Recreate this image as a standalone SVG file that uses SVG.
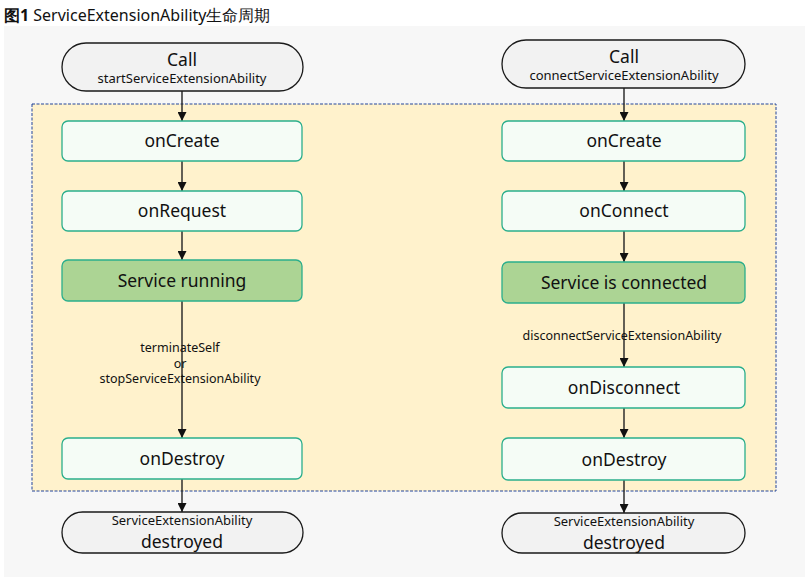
<svg xmlns="http://www.w3.org/2000/svg" width="809" height="586" viewBox="0 0 809 586">
<style>
text{font-family:"Noto Sans","Open Sans","Liberation Sans",sans-serif;fill:#111;text-anchor:middle}
.title{text-anchor:start;font-size:16px}
.term{fill:#f2f2f2;stroke:#1a1a1a;stroke-width:1.3}
.box{fill:#f5fcf6;stroke:#2aae8c;stroke-width:1.3}
.act{fill:#acd494;stroke:#2aae8c;stroke-width:1.3}
.big{font-size:17.5px}
.sm{font-size:13px}
.lbl{font-size:12.5px}
.edge{stroke:#222;stroke-width:1.4;fill:none;marker-end:url(#ah)}
</style>
<defs>
<marker id="ah" viewBox="0 0 10 10" refX="10" refY="5" markerWidth="9" markerHeight="9" markerUnits="userSpaceOnUse" orient="auto">
<path d="M0,0 L10,5 L0,10 z" fill="#111"/>
</marker>
</defs>
<rect width="809" height="586" fill="#fff"/>
<text class="title" x="4" y="21"><tspan font-weight="bold">图1</tspan> ServiceExtensionAbility生命周期</text>
<rect x="4" y="26" width="801" height="551" fill="#f7f7f7"/>
<rect x="32" y="104" width="744" height="387" fill="#fff2cc" stroke="#23449a" stroke-width="1" stroke-dasharray="3,1.5"/>
<g id="connectors">
<path class="edge" d="M182,91 V121"/>
<path class="edge" d="M182,161 V191"/>
<path class="edge" d="M182,231 V260"/>
<path class="edge" d="M182,301 V438"/>
<path class="edge" d="M182,479 V512"/>
<path class="edge" d="M624,88 V121"/>
<path class="edge" d="M624,161 V191"/>
<path class="edge" d="M624,231 V262"/>
<path class="edge" d="M624,303 V367"/>
<path class="edge" d="M624,408 V438"/>
<path class="edge" d="M624,480 V513"/>
<text class="lbl" x="180" y="352">terminateSelf<tspan x="180" dy="15.5">or</tspan><tspan x="180" dy="15.5">stopServiceExtensionAbility</tspan></text>
<text class="lbl" x="622" y="340">disconnectServiceExtensionAbility</text>
</g>
<g id="callStart"><rect class="term" x="62" y="43" width="241" height="48" rx="24"/><text class="big" x="182" y="66">Call<tspan class="sm" x="182" y="83">startServiceExtensionAbility</tspan></text></g>
<g id="onCreateL"><rect class="box" x="62" y="121" width="240" height="40" rx="6"/><text class="big" x="182" y="147">onCreate</text></g>
<g id="onRequest"><rect class="box" x="62" y="191" width="240" height="40" rx="6"/><text class="big" x="182" y="217">onRequest</text></g>
<g id="serviceRunning"><rect class="act" x="62" y="260" width="240" height="41" rx="6"/><text class="big" x="182" y="287">Service running</text></g>
<g id="onDestroyL"><rect class="box" x="62" y="438" width="240" height="41" rx="6"/><text class="big" x="182" y="465">onDestroy</text></g>
<g id="destroyedL"><rect class="term" x="62" y="512" width="241" height="41" rx="20.5"/><text class="sm" x="182" y="525">ServiceExtensionAbility<tspan class="big" x="182" y="548">destroyed</tspan></text></g>
<g id="callConnect"><rect class="term" x="502" y="40" width="243" height="48" rx="24"/><text class="big" x="624" y="63">Call<tspan class="sm" x="624" y="80">connectServiceExtensionAbility</tspan></text></g>
<g id="onCreateR"><rect class="box" x="502" y="121" width="243" height="40" rx="6"/><text class="big" x="624" y="147">onCreate</text></g>
<g id="onConnect"><rect class="box" x="502" y="191" width="243" height="40" rx="6"/><text class="big" x="624" y="217">onConnect</text></g>
<g id="serviceConnected"><rect class="act" x="502" y="262" width="243" height="41" rx="6"/><text class="big" x="624" y="289">Service is connected</text></g>
<g id="onDisconnect"><rect class="box" x="502" y="367" width="243" height="41" rx="6"/><text class="big" x="624" y="394">onDisconnect</text></g>
<g id="onDestroyR"><rect class="box" x="502" y="438" width="243" height="42" rx="6"/><text class="big" x="624" y="466">onDestroy</text></g>
<g id="destroyedR"><rect class="term" x="502" y="513" width="243" height="40" rx="20"/><text class="sm" x="624" y="526">ServiceExtensionAbility<tspan class="big" x="624" y="549">destroyed</tspan></text></g>
</svg>
